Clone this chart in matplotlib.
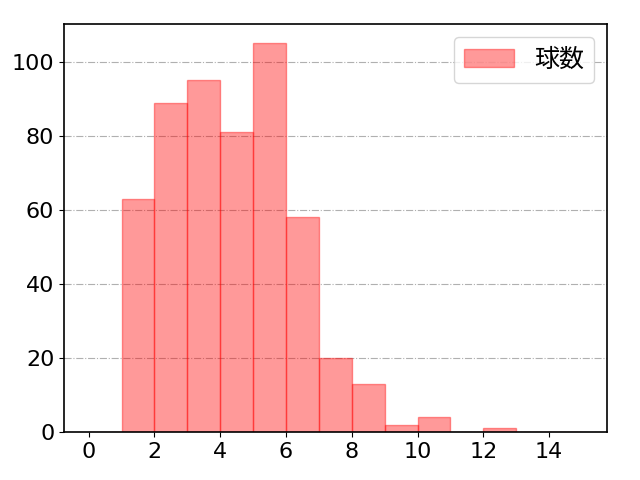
import matplotlib
matplotlib.use('Agg')
import matplotlib.pyplot as plt
import numpy as np

plt.rcParams['font.family'] = ['Noto Sans CJK JP', 'DejaVu Sans']

# 球数 histogram (bin left edges, counts)
bin_edges = list(range(0, 16))
counts = [0, 63, 89, 95, 81, 105, 58, 20, 13, 2, 4, 0, 1, 0, 0]

fig, ax = plt.subplots(figsize=(6.4, 4.8), dpi=100)
ax.hist(bin_edges[:-1], bins=bin_edges, weights=counts,
        color='red', alpha=0.4, edgecolor='red', linewidth=1, label='球数')
ax.grid(axis='y', linestyle='-.', color='#b0b0b0', linewidth=0.8)
ax.set_axisbelow(True)
ax.set_xticks([0, 2, 4, 6, 8, 10, 12, 14])
ax.set_yticks([0, 20, 40, 60, 80, 100])
ax.tick_params(labelsize=16)
for lbl in ax.get_xticklabels() + ax.get_yticklabels():
    lbl.set_family('DejaVu Sans')
ax.legend(loc='upper right', fontsize=18)
for s in ax.spines.values():
    s.set_linewidth(1.2)

fig.subplots_adjust(left=0.1, right=0.948, top=0.95, bottom=0.1)
plt.savefig('out.png', dpi=100)
plt.close()
